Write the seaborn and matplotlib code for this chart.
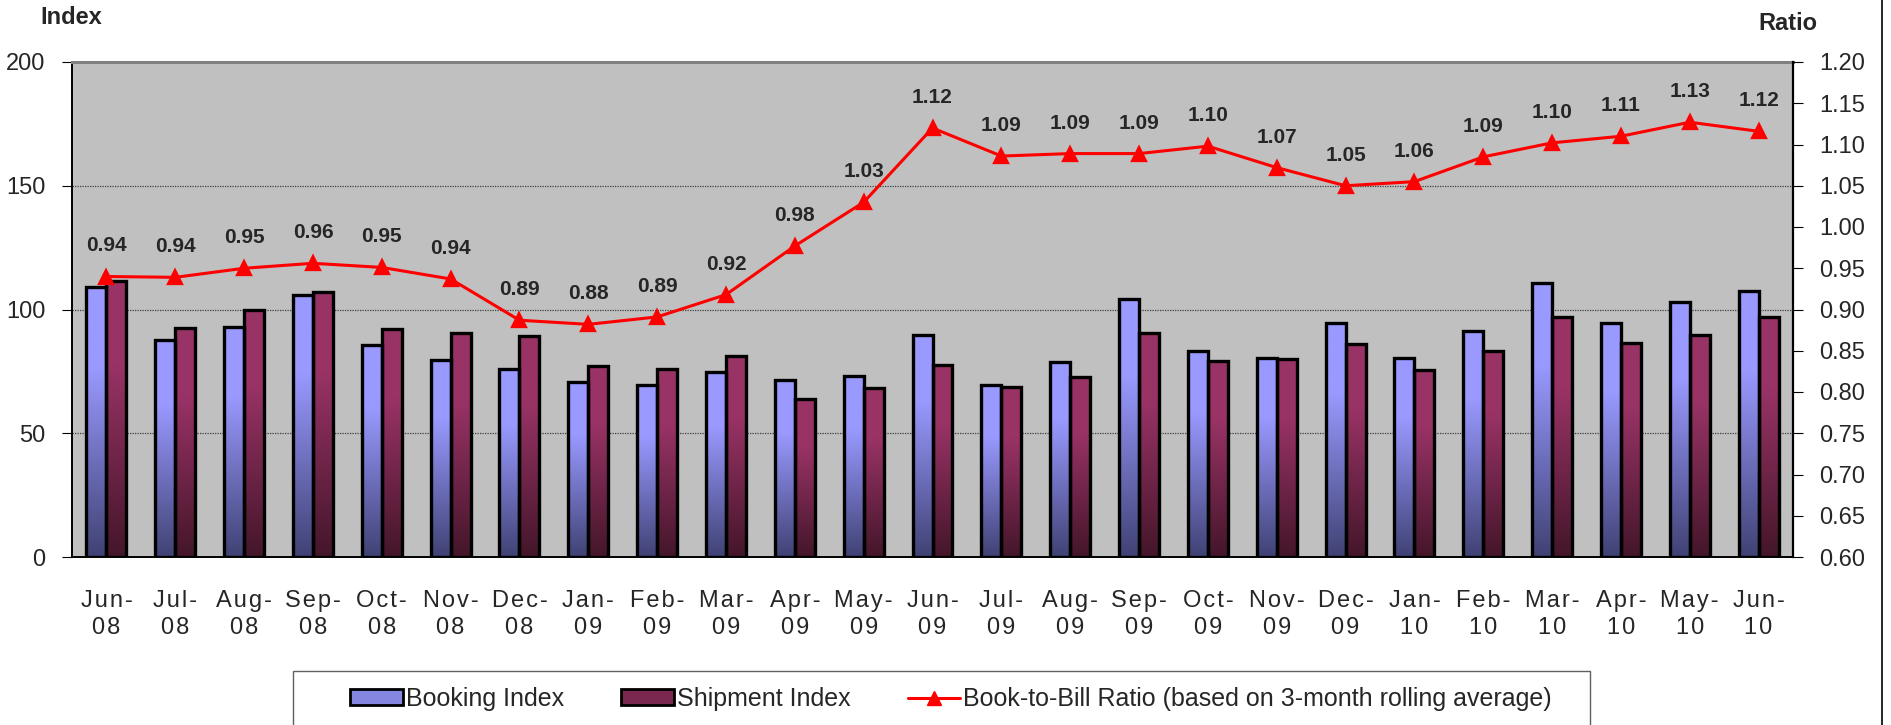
import numpy as np
import pandas as pd
import matplotlib
matplotlib.use('Agg')
import matplotlib.pyplot as plt
import seaborn as sns
from matplotlib.colors import to_rgb
from matplotlib.patches import Patch, Rectangle
from matplotlib.lines import Line2D

# ── data ─────────────────────────────────────────────────────────────────────
months = ['Jun-08', 'Jul-08', 'Aug-08', 'Sep-08', 'Oct-08', 'Nov-08', 'Dec-08',
          'Jan-09', 'Feb-09', 'Mar-09', 'Apr-09', 'May-09', 'Jun-09', 'Jul-09',
          'Aug-09', 'Sep-09', 'Oct-09', 'Nov-09', 'Dec-09', 'Jan-10', 'Feb-10',
          'Mar-10', 'Apr-10', 'May-10', 'Jun-10']
booking = [109.0, 87.7, 92.9, 106.0, 85.7, 79.7, 76.1, 70.7, 69.5, 74.9, 71.6,
           73.3, 89.7, 69.4, 78.9, 104.2, 83.2, 80.4, 94.5, 80.3, 91.2, 110.6,
           94.7, 102.9, 107.6]
shipment = [111.6, 92.6, 100.0, 107.0, 92.0, 90.4, 89.3, 77.2, 76.0, 81.2, 63.7,
            68.3, 77.4, 68.6, 72.7, 90.4, 79.3, 80.1, 86.2, 75.7, 83.1, 97.1,
            86.6, 89.7, 97.1]
ratio = [0.940, 0.939, 0.950, 0.956, 0.951, 0.937, 0.887, 0.882, 0.891, 0.918,
         0.977, 1.030, 1.120, 1.086, 1.089, 1.089, 1.098, 1.072, 1.050, 1.055,
         1.085, 1.102, 1.110, 1.127, 1.116]
ratio_labels = ['0.94', '0.94', '0.95', '0.96', '0.95', '0.94', '0.89', '0.88',
                '0.89', '0.92', '0.98', '1.03', '1.12', '1.09', '1.09', '1.09',
                '1.10', '1.07', '1.05', '1.06', '1.09', '1.10', '1.11', '1.13',
                '1.12']
series = ['Booking Index', 'Shipment Index']
line_name = 'Book-to-Bill Ratio (based on 3-month rolling average)'

# gradient colours (top, bottom) per series
GRAD = {'Booking Index': ('#9999FF', '#404274'),
        'Shipment Index': ('#993366', '#44162A')}

sns.set_style('white')
plt.rcParams['font.family'] = ['Liberation Sans', 'DejaVu Sans']

df = pd.DataFrame({
    'Month': months * 2,
    'Value': booking + shipment,
    'Series': [series[0]] * len(months) + [series[1]] * len(months),
})

W, H = 1891, 725
fig = plt.figure(figsize=(W / 100, H / 100), dpi=100)
ax = fig.add_axes([72 / W, 1 - 557 / H, (1793 - 72) / W, (557 - 62) / H])
ax.set_facecolor('#C0C0C0')

sns.barplot(data=df, x='Month', y='Value', hue='Series',
            palette=[GRAD[s][0] for s in series], width=0.58, saturation=1,
            edgecolor='black', linewidth=2.4, errorbar=None, legend=False, ax=ax)

# vertical gradient inside each bar
t = np.linspace(0, 1, 256)
frac = np.clip(t / 0.7, 0, 1)[:, None]
for cont, name in zip(ax.containers, series):
    top, bot = (np.array(to_rgb(c)) for c in GRAD[name])
    grad = (bot + (top - bot) * frac)[:, None, :]
    for bar in cont:
        x, y = bar.get_x(), bar.get_y()
        w, h = bar.get_width(), bar.get_height()
        ax.imshow(grad, extent=[x, x + w, y, y + h], origin='lower',
                  aspect='auto', zorder=1.5, interpolation='bilinear')
        bar.set_facecolor('none')
        bar.set_zorder(2)

ax.set_xlim(-0.5, len(months) - 0.5)
ax.set_ylim(0, 200)

# ── ratio line on the right axis ─────────────────────────────────────────────
ax2 = ax.twinx()
sns.pointplot(x=months, y=ratio, ax=ax2, color='red', markers='^',
              markersize=10, linewidth=2.2, errorbar=None)
ax2.set_ylim(0.6, 1.2)
ax2.set_yticks(np.arange(0.60, 1.2001, 0.05))
ax2.set_yticklabels([f'{v:.2f}' for v in np.arange(0.60, 1.2001, 0.05)])
ax2.tick_params(axis='y', length=7, pad=12, labelsize=17, color='black')
ax2.set_ylabel('')
for i, (r, lab) in enumerate(zip(ratio, ratio_labels)):
    ax2.annotate(lab, (i, r), xytext=(0, 22), textcoords='offset points',
                 ha='center', va='center', fontsize=15, fontweight='bold')

# ── axes styling ─────────────────────────────────────────────────────────────
SP = '\u200a'  # Excel draws these labels with a little extra letter spacing
xlabels = [SP.join(m.split('-')[0] + '-') + '\n' + SP.join(m.split('-')[1])
           for m in months]
ax.set_xticks(range(len(months)))
ax.set_xticklabels(xlabels, fontsize=17, multialignment='center',
                   linespacing=1.3)
ax.set_xticks(np.arange(-0.5, len(months), 1), minor=True)
ax.tick_params(axis='x', which='major', length=0, pad=24)
ax.tick_params(axis='x', which='minor', length=6, color='#606060')
ax.set_yticks([0, 50, 100, 150, 200])
ax.tick_params(axis='y', length=7, pad=12, labelsize=17, color='black')
ax.set_xlabel('')
ax.set_ylabel('')
ax.set_axisbelow(True)
ax.yaxis.grid(True, linestyle=(0, (1, 1)), color='#404040', linewidth=0.9)
ax.xaxis.grid(False)

for sp in ['top', 'left', 'bottom']:
    ax2.spines[sp].set_visible(False)
ax.spines['right'].set_visible(False)
ax.spines['top'].set_color('#808080')
ax.spines['top'].set_linewidth(2.2)
for sp in ['left', 'bottom']:
    ax.spines[sp].set_color('black')
    ax.spines[sp].set_linewidth(1.4)
ax2.spines['right'].set_color('black')
ax2.spines['right'].set_linewidth(1.6)

fig.text(40 / W, 1 - 18 / H, 'Index', fontsize=17, fontweight='bold',
         ha='left', va='center')
fig.text(1758 / W, 1 - 23 / H, 'Ratio', fontsize=17, fontweight='bold',
         ha='left', va='center')

# ── legend ───────────────────────────────────────────────────────────────────
handles = [Patch(facecolor='#8486E0', edgecolor='black', linewidth=2),
           Patch(facecolor='#7A2850', edgecolor='black', linewidth=2),
           Line2D([], [], color='red', linewidth=2.2, marker='^', markersize=10)]
fig.legend(handles, series + [line_name], loc='center left',
           bbox_to_anchor=(350 / W, 1 - 699 / H), ncol=3, frameon=False,
           borderpad=0, borderaxespad=0, handlelength=2.1, handleheight=0.6,
           handletextpad=0.12, columnspacing=2.3,
           prop={'family': ['Liberation Sans Narrow', 'Liberation Sans'],
                 'size': 18})
fig.add_artist(Rectangle((293 / W, -0.05), (1590 - 293) / W, 0.05 + 1 - 671 / H,
                         transform=fig.transFigure, fill=False,
                         edgecolor='#606060', linewidth=1))
fig.add_artist(Line2D([1882 / W, 1882 / W], [0, 1], transform=fig.transFigure,
                      color='black', linewidth=1.2))

fig.savefig('out.png', dpi=100)
